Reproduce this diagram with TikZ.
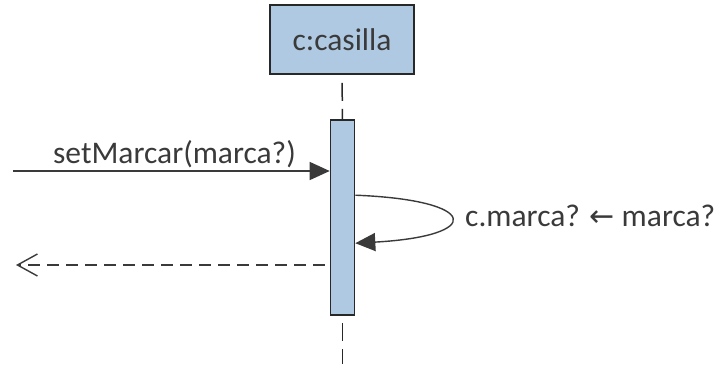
\documentclass[tikz,border=0pt]{standalone}
\usepackage{fontspec}
\setmainfont{Carlito}
\newfontfamily\arrowfont{DejaVu Sans}
\usetikzlibrary{arrows.meta,calc}
\definecolor{boxfill}{RGB}{176,201,226}
\definecolor{ink}{RGB}{58,58,58}
\definecolor{edge}{RGB}{40,40,40}
\tikzset{
  objbox/.style={draw=edge,line width=1.6pt,fill=boxfill,minimum width=144pt,minimum height=69pt,inner sep=0pt,text=ink,font=\fontsize{31.5}{34}\selectfont},
  actbox/.style={draw=edge,line width=1.6pt,fill=boxfill,minimum width=24pt,minimum height=195pt,inner sep=0pt},
  lifeline/.style={draw=edge,line width=1.5pt,dash pattern=on 18pt off 8pt,dash phase=18pt},
  msg/.style={draw=ink,line width=1.4pt,-{Triangle[length=20pt,width=18pt]}},
  retmsg/.style={draw=ink,line width=1.4pt,dash pattern=on 12pt off 7pt,-{Straight Barb[length=20pt,width=22pt,line width=1.4pt]}},
  lbl/.style={text=ink,inner sep=0pt,font=\fontsize{31.5}{34}\selectfont}
}
\begin{document}
\begin{tikzpicture}[x=1pt,y=-1pt]
\useasboundingbox (0,0) rectangle (725,364);
\node[objbox] (obj) at (342,39.5) {c:casilla};
\coordinate (lifeend) at (342.5,364);
\draw[lifeline] (obj.south) -- (342.5,120) coordinate (acttop);
\draw[lifeline] (342.5,315) coordinate (actbot) -- (lifeend);
\node[actbox] (act) at (342.5,217.5) {};
% incoming message
\coordinate (src) at (13,171);
\draw[msg] (src) -- (src -| act.west);
\node[lbl,anchor=base] (m1) at (174.5,163) {setMarcar(marca?)};
% self message
\coordinate (loopA) at ($(act.north east)+(0,76)$);
\coordinate (loopB) at ($(act.north east)+(0,124)$);
\draw[msg] (loopA) .. controls (480,200) and (485,236) .. (loopB);
\node[lbl,anchor=base west] (m2) at (465,226) {c.marca? {\arrowfont\fontsize{30}{32}\selectfont ←} marca?};
% return message
\coordinate (dst) at (16,265);
\draw[retmsg] (dst -| act.west) ++(-5,0) -- (dst);
\end{tikzpicture}
\end{document}
